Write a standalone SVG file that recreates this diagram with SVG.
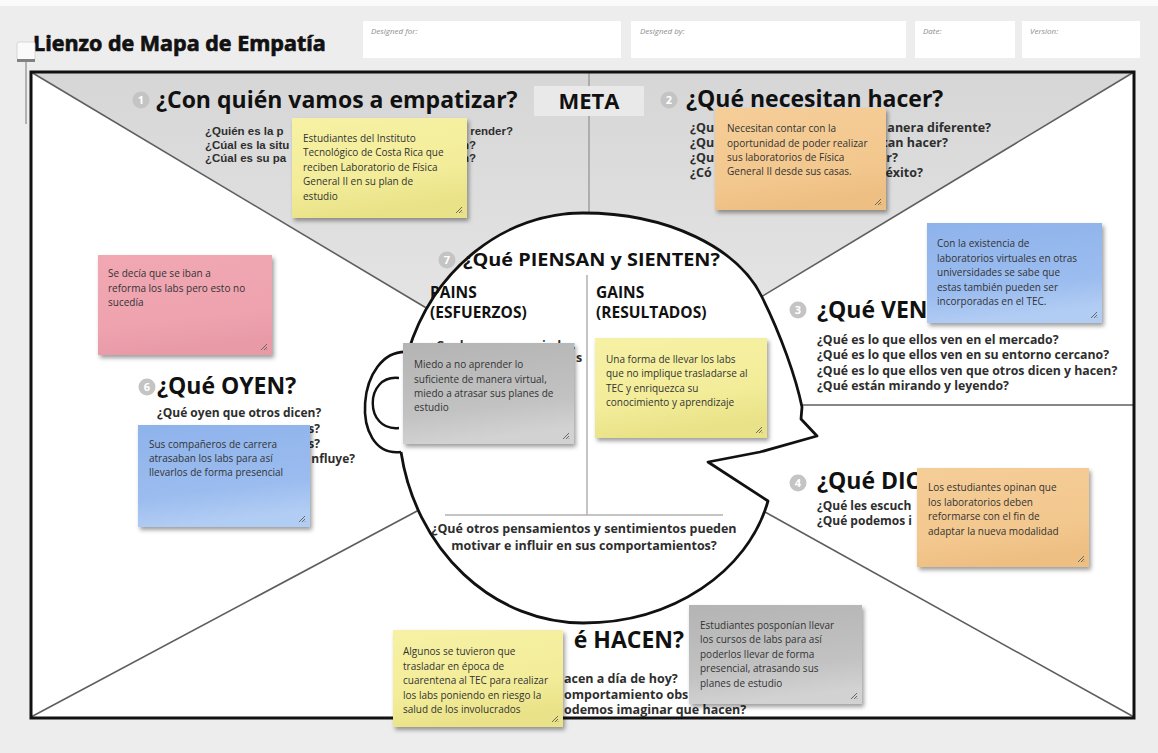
<svg xmlns="http://www.w3.org/2000/svg" width="1158" height="753" viewBox="0 0 1158 753">
<style>
.h{font-family:"Open Sans","Noto Sans",sans-serif;font-weight:700;fill:#111}
.h1{font-size:23px}
.q{font-family:"Open Sans","Noto Sans",sans-serif;font-weight:700;font-size:12.5px;fill:#2e2e2e}
.qs{font-family:"Liberation Sans",Arial,sans-serif;font-size:11.5px}
.q12{font-size:12px}
.qv{font-size:12.3px}
.n{font-family:"Open Sans","Noto Sans",sans-serif;font-size:10px;fill:#333}
.lbl{font-family:"Open Sans","Noto Sans",sans-serif;font-style:italic;font-size:8px;fill:#8c8c8c}
.num{fill:#c4c4c4}
.numt{font-family:"Open Sans",sans-serif;font-weight:700;font-size:11px;fill:#fff;text-anchor:middle}
.div{stroke:#5e5e5e;stroke-width:1.6;fill:none}
.inner{stroke:#b0b0b0;stroke-width:1.5;fill:none}
.grip{stroke:#6a6a5a;stroke-width:1;fill:none}
</style>
<defs>
<filter id="sh" x="-10%" y="-10%" width="125%" height="130%">
<feDropShadow dx="2" dy="3" stdDeviation="2.2" flood-color="#000" flood-opacity="0.38"/>
</filter>
<linearGradient id="gY" x1="0" y1="0" x2="0.25" y2="1"><stop offset="0" stop-color="#f6f1a4"/><stop offset="0.65" stop-color="#f3ed9a"/><stop offset="1" stop-color="#e9e288"/></linearGradient>
<linearGradient id="gO" x1="0" y1="0" x2="0.25" y2="1"><stop offset="0" stop-color="#f5cd97"/><stop offset="0.7" stop-color="#f3c88f"/><stop offset="1" stop-color="#eebf83"/></linearGradient>
<linearGradient id="gB" x1="0" y1="0" x2="0.2" y2="1"><stop offset="0" stop-color="#8eb3eb"/><stop offset="0.7" stop-color="#9bbcef"/><stop offset="1" stop-color="#b2cdf4"/></linearGradient>
<linearGradient id="gP" x1="0" y1="0" x2="0.2" y2="1"><stop offset="0" stop-color="#f1a8b3"/><stop offset="0.7" stop-color="#eea3af"/><stop offset="1" stop-color="#e89aa7"/></linearGradient>
<linearGradient id="gG" x1="0" y1="0" x2="0.2" y2="1"><stop offset="0" stop-color="#b4b4b4"/><stop offset="0.7" stop-color="#c2c2c2"/><stop offset="1" stop-color="#d2d2d2"/></linearGradient>
<linearGradient id="gTop" x1="0" y1="72" x2="0" y2="310" gradientUnits="userSpaceOnUse"><stop offset="0" stop-color="#d6d6d6"/><stop offset="1" stop-color="#e4e4e4"/></linearGradient>
<path id="grip" class="grip" d="M-3,-9 L-9,-3 M-3,-6 L-6,-3 M-3,-3.5 L-3.5,-3"/>
</defs>

<rect x="0" y="0" width="1158" height="753" fill="#ededed"/>
<rect x="0" y="0" width="1158" height="6" fill="#fbfbfb"/>

<g id="header">
<text class="h" x="33" y="51" font-size="21.5" stroke="#111" stroke-width="0.7">Lienzo de Mapa de Empatía</text>
<rect x="363" y="21" width="258" height="37" fill="#fff"/>
<text class="lbl" x="371" y="34">Designed for:</text>
<rect x="631" y="21" width="275" height="37" fill="#fff"/>
<text class="lbl" x="640" y="34">Designed by:</text>
<rect x="915" y="21" width="100" height="37" fill="#fff"/>
<text class="lbl" x="923" y="34">Date:</text>
<rect x="1022" y="21" width="118" height="37" fill="#fff"/>
<text class="lbl" x="1030" y="34">Version:</text>
<rect x="17" y="42" width="18" height="18" rx="2" fill="#fafafa" stroke="#cfcfcf" stroke-width="0.8"/>
<rect x="17" y="59" width="18" height="3" fill="#555" opacity="0.7"/>
<line x1="26" y1="62" x2="26" y2="124" stroke="#777" stroke-width="1"/>
</g>

<g id="canvas">
<rect x="31" y="72" width="1103" height="646" fill="#fff"/>
<polygon points="31,72 1134,72 760,297 600,330 427,308" fill="url(#gTop)"/>
</g>

<g id="connectors">
<line class="div" x1="31" y1="72" x2="428" y2="309"/>
<line class="div" x1="1134" y1="72" x2="761" y2="297"/>
<line x1="589" y1="72" x2="589" y2="214" stroke="#9a9a9a" stroke-width="1.4"/>
<line class="div" x1="802" y1="405" x2="1134" y2="405"/>
<line class="div" x1="765" y1="512" x2="1134" y2="717"/>
<line class="div" x1="419" y1="510" x2="31" y2="717"/>
</g>

<rect x="31" y="72" width="1103" height="646" fill="none" stroke="#111" stroke-width="3"/>

<g id="head">
<path d="M408,352 A185 205 0 0 1 583,213 C668,213 738,248 762,297 C781,335 796,378 802,407 L801,419 L817,436 L760,452 L708,462 L768,501 C748,572 672,623 583,623 A185 205 0 0 1 401,452 Z" fill="#fff" stroke="none"/>
<path d="M408,352 A185 205 0 0 1 583,213 C668,213 738,248 762,297 C781,335 796,378 802,407 L801,419 L817,436 L760,452 L708,462 L768,501 C748,572 672,623 583,623 A185 205 0 0 1 401,452" fill="none" stroke="#111" stroke-width="2.8" stroke-linejoin="round"/>
<path d="M408,352 C356,348 348,458 401,452" fill="none" stroke="#111" stroke-width="2.6"/>
<path d="M399,378 C364,374 364,432 399,428" fill="none" stroke="#111" stroke-width="2.4"/>
<line class="inner" x1="587" y1="275" x2="587" y2="515"/>
<line class="inner" x1="445" y1="515" x2="723" y2="515"/>
<circle class="num" cx="447" cy="260" r="8.5"/><text class="numt" x="447" y="264">7</text>
<text class="h" x="463" y="266" font-size="18.5" textLength="257" lengthAdjust="spacingAndGlyphs">¿Qué PIENSAN y SIENTEN?</text>
<text class="h" x="430" y="298" font-size="15.5">PAINS</text>
<text class="h" x="430" y="318" font-size="15.5">(ESFUERZOS)</text>
<text class="h" x="596" y="298" font-size="15.5">GAINS</text>
<text class="h" x="596" y="318" font-size="15.5">(RESULTADOS)</text>
<text class="q" x="430" y="350" font-size="12">¿Cuales son sus miedos</text>
<text class="q" x="576" y="362" font-size="12">s</text>
<text class="q" x="584" y="533" text-anchor="middle">¿Qué otros pensamientos y sentimientos pueden</text>
<text class="q" x="584" y="550" text-anchor="middle">motivar e influir en sus comportamientos?</text>
</g>

<g id="q1-empatizar">
<circle class="num" cx="141" cy="100" r="8.5"/><text class="numt" x="141" y="104">1</text>
<text class="h h1" x="156" y="108">¿Con quién vamos a empatizar?</text>
<text class="q qs" x="205" y="135">¿Quién es la p</text>
<text class="q qs" x="513" y="135" text-anchor="end">render?</text>
<text class="q qs" x="205" y="148.5">¿Cúal es la situ</text>
<text class="q qs" x="476" y="148.5" text-anchor="end">an?</text>
<text class="q qs" x="205" y="162">¿Cúal es su pa</text>
<text class="q qs" x="476" y="162" text-anchor="end">ón?</text>
</g>

<g id="meta">
<rect x="534" y="86" width="110" height="30" fill="#e9e9e9"/>
<text class="h" x="589" y="109" font-size="22" text-anchor="middle">META</text>
</g>

<g id="q2-necesitan">
<circle class="num" cx="669" cy="100" r="8.5"/><text class="numt" x="669" y="104">2</text>
<text class="h h1" x="686" y="107">¿Qué necesitan hacer?</text>
<text class="q" x="690" y="132">¿Qu</text>
<text class="q" x="991" y="132" text-anchor="end">anera diferente?</text>
<text class="q" x="690" y="147">¿Qu</text>
<text class="q" x="948" y="147" text-anchor="end">tan hacer?</text>
<text class="q" x="690" y="162">¿Qu</text>
<text class="q" x="898" y="162" text-anchor="end">r?</text>
<text class="q" x="690" y="177">¿Có</text>
<text class="q" x="923" y="177" text-anchor="end">éxito?</text>
</g>

<g id="q3-ven">
<circle class="num" cx="798" cy="310" r="8.5"/><text class="numt" x="798" y="314">3</text>
<text class="h h1" x="817" y="318">¿Qué VEN</text>
<text class="q qv" x="817" y="343.5">¿Qué es lo que ellos ven en el mercado?</text>
<text class="q qv" x="817" y="359">¿Qué es lo que ellos ven en su entorno cercano?</text>
<text class="q qv" x="817" y="374.5">¿Qué es lo que ellos ven que otros dicen y hacen?</text>
<text class="q qv" x="817" y="390">¿Qué están mirando y leyendo?</text>
</g>

<g id="q4-dicen">
<circle class="num" cx="798" cy="483" r="8.5"/><text class="numt" x="798" y="487">4</text>
<text class="h h1" x="817" y="489">¿Qué DIC</text>
<text class="q q12" x="817" y="509.5">¿Qué les escuch</text>
<text class="q q12" x="817" y="525">¿Qué podemos i</text>
</g>

<g id="q5-hacen">
<text class="h h1" x="684" y="648" text-anchor="end">é HACEN?</text>
<text class="q" x="564" y="683">acen a día de hoy?</text>
<text class="q" x="564" y="698.5">omportamiento obs</text>
<text class="q" x="564" y="713.5">odemos imaginar que hacen?</text>
</g>

<g id="q6-oyen">
<circle class="num" cx="147" cy="387" r="8.5"/><text class="numt" x="147" y="391">6</text>
<text class="h h1" x="157" y="394">¿Qué OYEN?</text>
<text class="q q12" x="157" y="417">¿Qué oyen que otros dicen?</text>
<text class="q q12" x="320" y="432.5" text-anchor="end">s?</text>
<text class="q q12" x="320" y="447.5" text-anchor="end">s?</text>
<text class="q q12" x="355" y="462.5" text-anchor="end">nfluye?</text>
</g>

<g id="note-estudiantes">
<rect x="292" y="118" width="175" height="100" fill="url(#gY)" filter="url(#sh)"/>
<use href="#grip" x="465" y="216"/>
<text class="n"><tspan x="303" y="141.5">Estudiantes del Instituto</tspan><tspan x="303" y="156">Tecnológico de Costa Rica que</tspan><tspan x="303" y="170.5">reciben Laboratorio de Física</tspan><tspan x="303" y="185">General II en su plan de</tspan><tspan x="303" y="199.5">estudio</tspan></text>
</g>

<g id="note-necesitan">
<rect x="715" y="108" width="171" height="102" fill="url(#gO)" filter="url(#sh)"/>
<use href="#grip" x="884" y="208"/>
<text class="n"><tspan x="727" y="132">Necesitan contar con la</tspan><tspan x="727" y="146.5">oportunidad de poder realizar</tspan><tspan x="727" y="160.5">sus laboratorios de Física</tspan><tspan x="727" y="175">General II desde sus casas.</tspan></text>
</g>

<g id="note-existencia">
<rect x="927" y="223" width="175" height="100" fill="url(#gB)" filter="url(#sh)"/>
<use href="#grip" x="1100" y="321"/>
<text class="n"><tspan x="937" y="247">Con la existencia de</tspan><tspan x="937" y="261.5">laboratorios virtuales en otras</tspan><tspan x="937" y="276">universidades se sabe que</tspan><tspan x="937" y="290.5">estas también pueden ser</tspan><tspan x="937" y="305">incorporadas en el TEC.</tspan></text>
</g>

<g id="note-reforma">
<rect x="98" y="255" width="174" height="100" fill="url(#gP)" filter="url(#sh)"/>
<use href="#grip" x="270" y="353"/>
<text class="n"><tspan x="108" y="277">Se decía que se iban a</tspan><tspan x="108" y="291.5">reforma los labs pero esto no</tspan><tspan x="108" y="306">sucedía</tspan></text>
</g>

<g id="note-companeros">
<rect x="138" y="425" width="172" height="102" fill="url(#gB)" filter="url(#sh)"/>
<use href="#grip" x="308" y="525"/>
<text class="n"><tspan x="149" y="447.5">Sus compañeros de carrera</tspan><tspan x="149" y="462">atrasaban los labs para así</tspan><tspan x="149" y="476">llevarlos de forma presencial</tspan></text>
</g>

<g id="note-miedo">
<rect x="403" y="343" width="171" height="101" fill="url(#gG)" filter="url(#sh)"/>
<use href="#grip" x="572" y="442"/>
<text class="n"><tspan x="414" y="368">Miedo a no aprender lo</tspan><tspan x="414" y="382.5">suficiente de manera virtual,</tspan><tspan x="414" y="397">miedo a atrasar sus planes de</tspan><tspan x="414" y="411">estudio</tspan></text>
</g>

<g id="note-forma">
<rect x="595" y="338" width="172" height="100" fill="url(#gY)" filter="url(#sh)"/>
<use href="#grip" x="765" y="436"/>
<text class="n"><tspan x="606" y="362.5">Una forma de llevar los labs</tspan><tspan x="606" y="377">que no implique trasladarse al</tspan><tspan x="606" y="391.5">TEC y enriquezca su</tspan><tspan x="606" y="406">conocimiento y aprendizaje</tspan></text>
</g>

<g id="note-opinan">
<rect x="917" y="468" width="172" height="99" fill="url(#gO)" filter="url(#sh)"/>
<use href="#grip" x="1087" y="565"/>
<text class="n"><tspan x="928" y="491">Los estudiantes opinan que</tspan><tspan x="928" y="505.5">los laboratorios deben</tspan><tspan x="928" y="520">reformarse con el fin de</tspan><tspan x="928" y="534.5">adaptar la nueva modalidad</tspan></text>
</g>

<g id="note-algunos">
<rect x="393" y="630" width="170" height="97" fill="url(#gY)" filter="url(#sh)"/>
<use href="#grip" x="561" y="725"/>
<text class="n"><tspan x="403" y="655">Algunos se tuvieron que</tspan><tspan x="403" y="669.5">trasladar en época de</tspan><tspan x="403" y="684">cuarentena al TEC para realizar</tspan><tspan x="403" y="698.5">los labs poniendo en riesgo la</tspan><tspan x="403" y="713">salud de los involucrados</tspan></text>
</g>

<g id="note-posponian">
<rect x="689" y="605" width="173" height="99" fill="url(#gG)" filter="url(#sh)"/>
<use href="#grip" x="860" y="702"/>
<text class="n"><tspan x="700" y="628.5">Estudiantes posponían llevar</tspan><tspan x="700" y="643">los cursos de labs para así</tspan><tspan x="700" y="657.5">poderlos llevar de forma</tspan><tspan x="700" y="672">presencial, atrasando sus</tspan><tspan x="700" y="686.5">planes de estudio</tspan></text>
</g>
</svg>
